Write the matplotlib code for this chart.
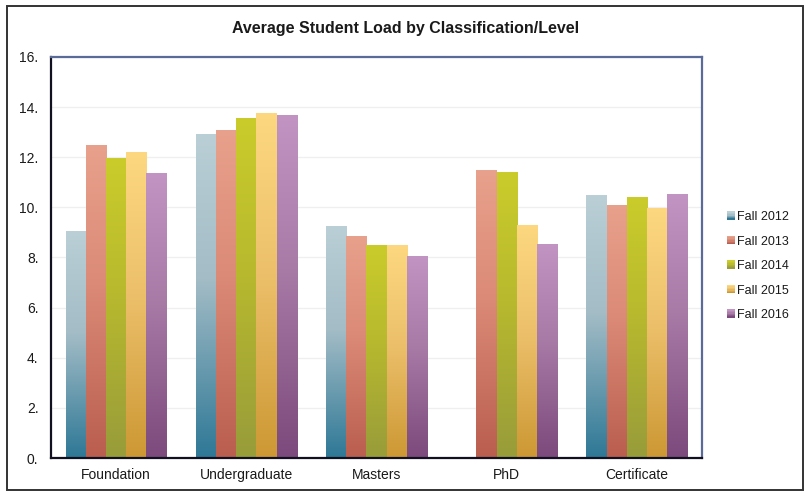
import numpy as np
import matplotlib
matplotlib.use("Agg")
import matplotlib.pyplot as plt
from matplotlib.colors import LinearSegmentedColormap
from matplotlib.patches import Rectangle, Patch
from matplotlib.legend_handler import HandlerBase

plt.rcParams['font.family'] = ['Liberation Sans', 'DejaVu Sans']

categories = ["Foundation", "Undergraduate", "Masters", "PhD", "Certificate"]
series_names = ["Fall 2012", "Fall 2013", "Fall 2014", "Fall 2015", "Fall 2016"]
fall_2012 = [9.05, 12.93, 9.26, 0.0, 10.49]
fall_2013 = [12.49, 13.09, 8.86, 11.49, 10.10]
fall_2014 = [11.97, 13.57, 8.50, 11.41, 10.41]
fall_2015 = [12.21, 13.77, 8.50, 9.30, 9.98]
fall_2016 = [11.37, 13.69, 8.06, 8.54, 10.53]
series_values = [fall_2012, fall_2013, fall_2014, fall_2015, fall_2016]
y_ticks = [0, 2, 4, 6, 8, 10, 12, 14, 16]
y_tick_labels = ["0.", "2.", "4.", "6.", "8.", "10.", "12.", "14.", "16."]

# gradient stops per series: (top, middle, bottom)
gradients = [
    ("#BACFD6", "#A3BCC6", "#2E7896"),
    ("#E8A18C", "#DB8A77", "#BA5E4F"),
    ("#CACC2B", "#B8B92E", "#989C3A"),
    ("#FDD880", "#EDC16C", "#CD9834"),
    ("#C194C3", "#A87AA6", "#7C4A7C"),
]

def make_cmap(stops):
    top, mid, bot = stops
    return LinearSegmentedColormap.from_list(
        "g", [(0.0, bot), (0.55, mid), (1.0, top)])

cmaps = [make_cmap(s) for s in gradients]

fig = plt.figure(figsize=(8.11, 4.94), dpi=100)
fig.patch.set_facecolor("white")
fig.add_artist(Rectangle((7 / 811, 4 / 494), 796 / 811, 484 / 494,
                         transform=fig.transFigure, fill=False,
                         edgecolor="#333333", linewidth=1.4))

ax = fig.add_axes([51 / 811, 36 / 494, 651 / 811, 401 / 494])

n = len(series_names)
x = np.arange(len(categories))
bar_w = 0.155
offsets = (np.arange(n) - (n - 1) / 2) * bar_w

grad = np.linspace(0, 1, 256).reshape(-1, 1)
for i, (vals, cmap) in enumerate(zip(series_values, cmaps)):
    bars = ax.bar(x + offsets[i], vals, width=bar_w, color="none",
                  edgecolor="none", zorder=2)
    for b in bars:
        h = b.get_height()
        if h <= 0:
            continue
        x0 = b.get_x()
        w = b.get_width()
        im = ax.imshow(grad, cmap=cmap, origin="lower", aspect="auto",
                       extent=(x0, x0 + w, 0, h), zorder=2,
                       interpolation="bilinear")
        im.set_clip_path(b)

ax.set_xlim(-0.5, len(categories) - 0.5)
ax.set_ylim(0, 16)
ax.set_yticks(y_ticks)
ax.set_yticklabels(y_tick_labels, fontsize=10, color="#1a1a1a")
ax.set_xticks(x)
ax.set_xticklabels(categories, fontsize=10, color="#1a1a1a")
ax.tick_params(axis="both", length=0)
ax.tick_params(axis="y", pad=9)
ax.tick_params(axis="x", pad=7)
ax.grid(axis="y", color="#EFEFEF", linewidth=0.9, zorder=0)
ax.set_axisbelow(True)

for side in ("top", "right"):
    ax.spines[side].set_color("#5A6B9A")
    ax.spines[side].set_linewidth(1.6)
for side in ("left", "bottom"):
    ax.spines[side].set_color("#101020")
    ax.spines[side].set_linewidth(1.6)

fig.text(406 / 811, 1 - 28 / 494, "Average Student Load by Classification/Level",
         ha="center", va="center", fontsize=11.5, fontweight="bold",
         color="#1a1a1a")


class GradientHandler(HandlerBase):
    def __init__(self, cmap):
        super().__init__()
        self.cmap = cmap

    def create_artists(self, legend, orig_handle, xdescent, ydescent,
                       width, height, fontsize, trans):
        arts = []
        steps = 6
        for k in range(steps):
            c = self.cmap(k / (steps - 1))
            r = Rectangle((-xdescent, -ydescent + height * k / steps),
                          width, height / steps + 0.3, facecolor=c,
                          edgecolor="none", transform=trans)
            arts.append(r)
        return arts


handles = [Patch(label=s) for s in series_names]
handler_map = {h: GradientHandler(cm) for h, cm in zip(handles, cmaps)}
fig.legend(handles=handles, labels=series_names, handler_map=handler_map,
           loc="center left", bbox_to_anchor=(722 / 811, 1 - 266 / 494),
           frameon=False, fontsize=9, handlelength=0.65, handleheight=0.65,
           handletextpad=0.15, labelspacing=1.0, borderaxespad=0,
           labelcolor="#1a1a1a")

fig.savefig("out.png", dpi=100, facecolor="white")
